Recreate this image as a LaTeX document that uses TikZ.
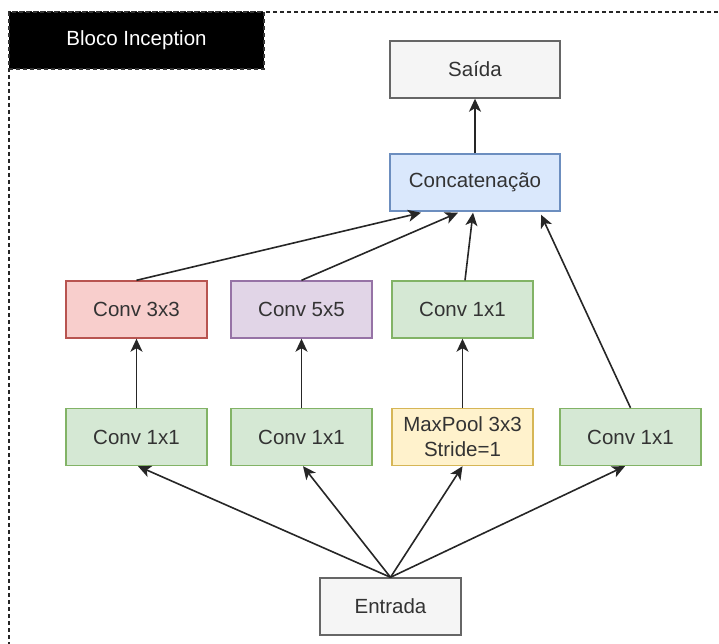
\documentclass[tikz,border=0pt]{standalone}
\usepackage{fontspec}
\setmainfont{Liberation Sans}
\usetikzlibrary{arrows.meta,calc}
\definecolor{txt}{HTML}{333333}
\definecolor{grayfill}{HTML}{F5F5F5}
\definecolor{graydraw}{HTML}{666666}
\definecolor{bluefill}{HTML}{DAE8FC}
\definecolor{bluedraw}{HTML}{6C8EBF}
\definecolor{redfill}{HTML}{F8CECC}
\definecolor{reddraw}{HTML}{B85450}
\definecolor{purplefill}{HTML}{E1D5E7}
\definecolor{purpledraw}{HTML}{9673A6}
\definecolor{greenfill}{HTML}{D5E8D4}
\definecolor{greendraw}{HTML}{82B366}
\definecolor{yellowfill}{HTML}{FFF2CC}
\definecolor{yellowdraw}{HTML}{D6B656}
\tikzset{
  box/.style={rectangle, line width=1.4pt, minimum width=141pt, minimum height=57pt,
    inner sep=0pt, text=txt, align=center,
    font=\fontsize{20.5}{25}\selectfont},
  wide/.style={box, minimum width=170pt},
  graybox/.style={fill=grayfill, draw=graydraw},
  bluebox/.style={fill=bluefill, draw=bluedraw},
  redbox/.style={fill=redfill, draw=reddraw},
  purplebox/.style={fill=purplefill, draw=purpledraw},
  greenbox/.style={fill=greenfill, draw=greendraw},
  yellowbox/.style={fill=yellowfill, draw=yellowdraw},
  link/.style={line width=1.6pt, black!85,
    -{Stealth[length=13pt, width=12pt, inset=3.5pt]}},
  frame/.style={line width=1.2pt, draw=black!85, dash pattern=on 4pt off 3pt},
  titlebox/.style={rectangle, fill=black, draw=black!80, line width=1.2pt,
    dash pattern=on 4pt off 3pt, minimum width=255pt, minimum height=57pt,
    inner sep=0pt, text=white, font=\fontsize{20.5}{25}\selectfont}
}
\begin{document}
\begin{tikzpicture}[x=1pt, y=-1pt]
\useasboundingbox (0,0) rectangle (719,644);

% dashed frame around the block
\draw[frame] (9,12) rectangle (745,670);
\node[titlebox] (title) at (136.5,40.5) {Bloco Inception};

% output side
\node[wide, graybox] (out) at (475,69.5) {Saída};
\node[wide, bluebox] (cat) at (475,182.5) {Concatenação};

% second layer
\node[box, redbox]    (c33) at (136.5,309.5) {Conv 3x3};
\node[box, purplebox] (c55) at (301.5,309.5) {Conv 5x5};
\node[box, greenbox]  (cpl) at (462.5,309.5) {Conv 1x1};

% first layer
\node[box, greenbox]  (ca) at (136.5,437) {Conv 1x1};
\node[box, greenbox]  (cb) at (301.5,437) {Conv 1x1};
\node[box, yellowbox] (mp) at (462.5,437) {MaxPool 3x3\\Stride=1};
\node[box, greenbox]  (cd) at (630.5,437) {Conv 1x1};

% input
\node[box, graybox] (in) at (390.5,606.5) {Entrada};

% input fan-out
\draw[link] (in.north) -- ($(ca.south)+(1.5,0)$);
\draw[link] (in.north) -- ($(cb.south)+(1.5,0)$);
\draw[link] (in.north) -- (mp.south);
\draw[link] (in.north) -- ($(cd.south)+(-5.5,0)$);

% branch internals
\draw[link] (ca.north) -- (c33.south);
\draw[link] (cb.north) -- (c55.south);
\draw[link] (mp.north) -- (cpl.south);

% into concatenation
\draw[link] (c33.north) -- ($(cat.south)+(-54,1)$);
\draw[link] (c55.north) -- ($(cat.south)+(-17,1)$);
\draw[link] ($(cpl.north)+(2.5,0)$) -- ($(cat.south)+(-2,1)$);
\draw[link] (cd.north) -- ($(cat.south)+(66,3)$);

% to output
\draw[link] (cat.north) -- (out.south);
\end{tikzpicture}
\end{document}
